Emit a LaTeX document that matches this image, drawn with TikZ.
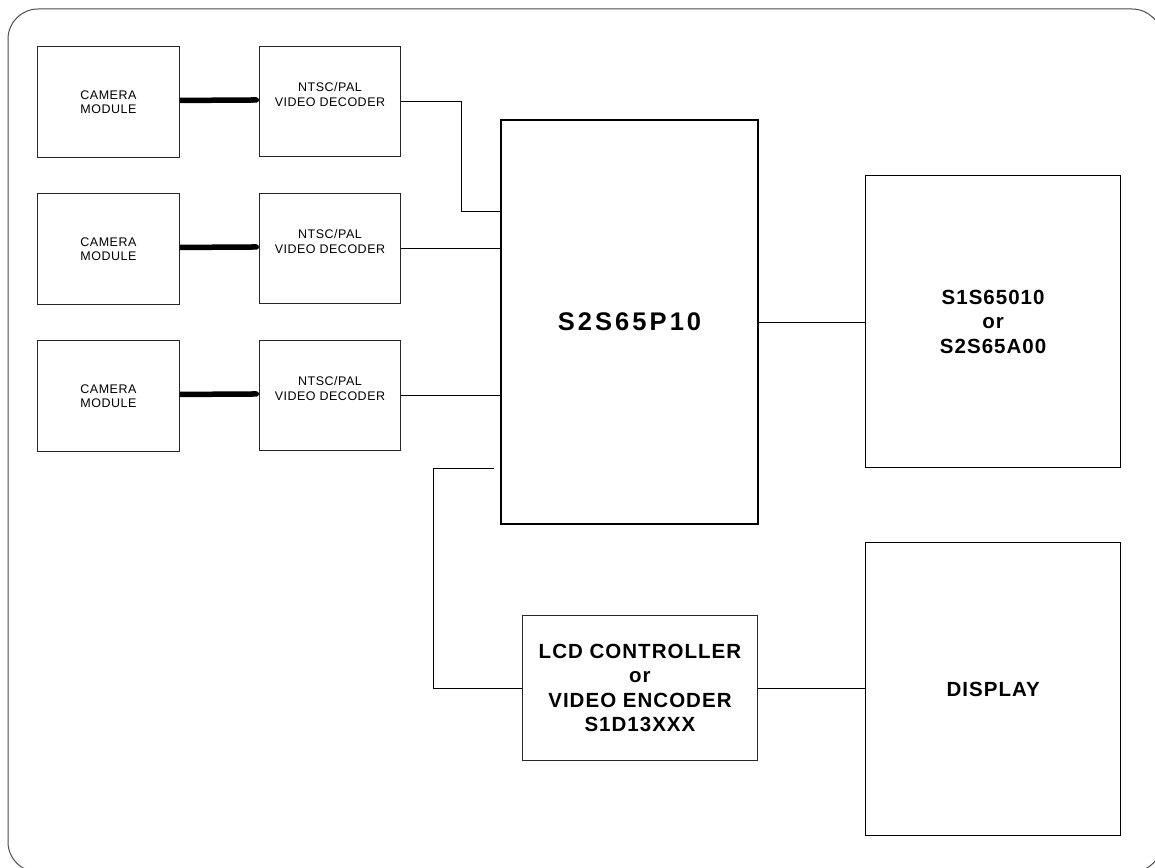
\documentclass[tikz,border=0pt]{standalone}
\usepackage{fontspec}
\setmainfont{Liberation Sans}
\newfontfamily\smallsp[LetterSpace=4]{Liberation Sans}
\newfontfamily\boldsp[LetterSpace=5]{Liberation Sans}
\newfontfamily\titlesp[LetterSpace=12]{Liberation Sans}
\usetikzlibrary{arrows.meta}
\begin{document}
\begin{tikzpicture}[x=1pt,y=-1pt,
  box/.style={draw=black!85, line width=0.9pt, anchor=north west, inner sep=0pt, align=center},
  smalltext/.style={font=\smallsp\fontsize{12.5}{14.3}\selectfont, align=center},
  boldtext/.style={font=\boldsp\bfseries\fontsize{20.5}{24.5}\selectfont, align=center},
  bigbox/.style={box, draw=black, line width=1.2pt, boldtext},
  wire/.style={draw=black, line width=0.9pt},
  thickwire/.style={draw=black, line width=5.5pt, -{Round Cap[]}},
  frame/.style={draw=black!70, line width=1pt, rounded corners=30pt}
]
\useasboundingbox (0,0) rectangle (1155,867);
\begin{scope}
\clip (0,0) rectangle (1155,867);
\draw[frame] (8,9) rectangle (1162,872);
\end{scope}

% camera modules
\node[box, smalltext, minimum width=142, minimum height=111] (cam1) at (37,46) {CAMERA\\MODULE};
\node[box, smalltext, minimum width=142, minimum height=111] (cam2) at (37,193) {CAMERA\\MODULE};
\node[box, smalltext, minimum width=142, minimum height=111] (cam3) at (37,340) {CAMERA\\MODULE};

% decoders
\node[box, minimum width=141, minimum height=110,
  label={[smalltext, yshift=7pt]center:{NTSC/PAL\\VIDEO DECODER}}] (dec1) at (259,46) {};
\node[box, minimum width=141, minimum height=110,
  label={[smalltext, yshift=7pt]center:{NTSC/PAL\\VIDEO DECODER}}] (dec2) at (259,193) {};
\node[box, minimum width=141, minimum height=110,
  label={[smalltext, yshift=7pt]center:{NTSC/PAL\\VIDEO DECODER}}] (dec3) at (259,340) {};

% main chip
\node[box, draw=black, line width=2pt, minimum width=257, minimum height=404,
  font=\titlesp\bfseries\fontsize{25.5}{30}\selectfont] (main) at (500,119) {S2S65P10};

% right side
\node[bigbox, minimum width=255, minimum height=292] (s1s) at (865,175) {S1S65010\\or\\S2S65A00};
\node[bigbox, minimum width=255, minimum height=293] (disp) at (865,542) {DISPLAY};
\node[box, boldtext, minimum width=235, minimum height=145] (lcd) at (522,615)
  {LCD CONTROLLER\\or\\VIDEO ENCODER\\S1D13XXX};

% connectors
\draw[thickwire] ([yshift=1.5pt]cam1.east) -- ([yshift=1.5pt]dec1.west);
\draw[thickwire] ([yshift=1.5pt]cam2.east) -- ([yshift=1.5pt]dec2.west);
\draw[thickwire] ([yshift=1.5pt]cam3.east) -- ([yshift=1.5pt]dec3.west);

\coordinate (m1) at (500,211);
\coordinate (m4) at (494,468);
\draw[wire] (dec1.east) -- ++(61,0) |- (m1);
\draw[wire] (dec2.east) -- (dec2.east -| main.west);
\draw[wire] (dec3.east) -- (dec3.east -| main.west);
\draw[wire] (m4) -- ++(-61,0) |- (lcd.west);
\draw[wire] (main.east) -- (main.east -| s1s.west);
\draw[wire] (lcd.east) -- (lcd.east -| disp.west);
\end{tikzpicture}
\end{document}
